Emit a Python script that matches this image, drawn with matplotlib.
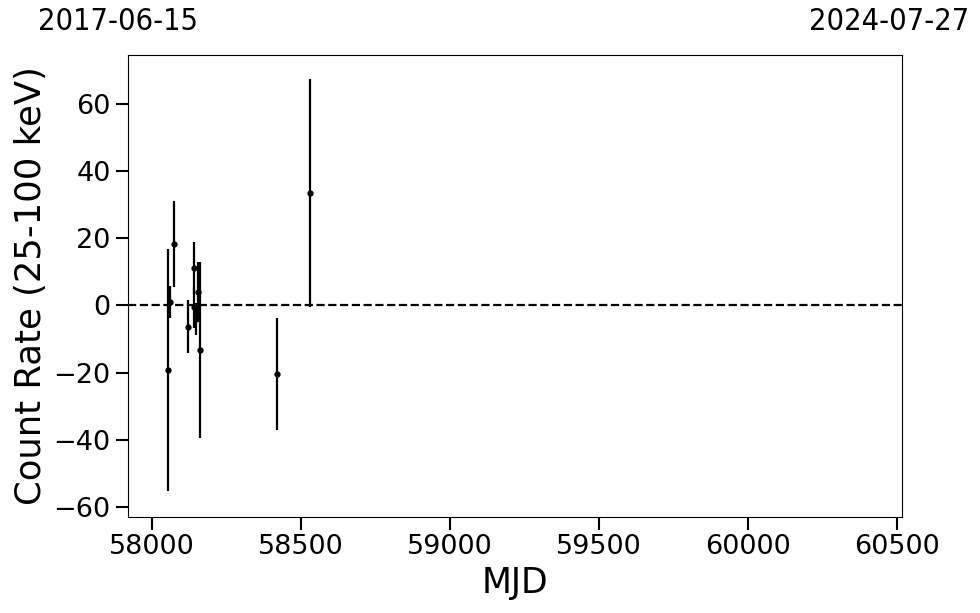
import matplotlib
matplotlib.use("Agg")
from matplotlib import pyplot as plt

# light curve points (MJD, rate, 1-sigma error)
mjd = [58052, 58060, 58075, 58122, 58139, 58142, 58146, 58155, 58162, 58420, 58530]
rate = [-19.3, 1.0, 18.3, -6.4, 11.1, -0.5, -4.1, 4.0, -13.3, -20.4, 33.4]
err = [36.0, 4.8, 12.8, 7.9, 7.7, 6.1, 4.7, 8.8, 26.2, 16.6, 34.0]

mjd_start, mjd_end = 57919, 60518
date_start, date_end = "2017-06-15", "2024-07-27"

fig = plt.figure(figsize=(9.8, 6.13), dpi=100)
ax = fig.add_axes([0.1306, 0.1566, 0.7898, 0.7537])

ax.errorbar(mjd, rate, yerr=err, fmt='o', color='black', ms=3.5,
            elinewidth=1.6, capsize=0)
ax.axhline(0, color='black', ls='--', lw=1.6)

ax.set_xlim(mjd_start, mjd_end)
ax.set_ylim(-63, 74.6)
ax.set_yticks([-60, -40, -20, 0, 20, 40, 60])
ax.set_xticks([58000, 58500, 59000, 59500, 60000, 60500])
ax.tick_params(labelsize=19.5, length=9, width=1.5)
ax.set_xlabel("MJD", fontsize=25)
ax.set_ylabel("Count Rate (25-100 keV)", fontsize=25.5)

fig.text(118 / 980, 1 - 22 / 613, date_start, fontsize=22, ha='center',
         va='center', fontstretch='condensed')
fig.text(889 / 980, 1 - 22 / 613, date_end, fontsize=22, ha='center',
         va='center', fontstretch='condensed')

fig.savefig("out.png", dpi=100)
